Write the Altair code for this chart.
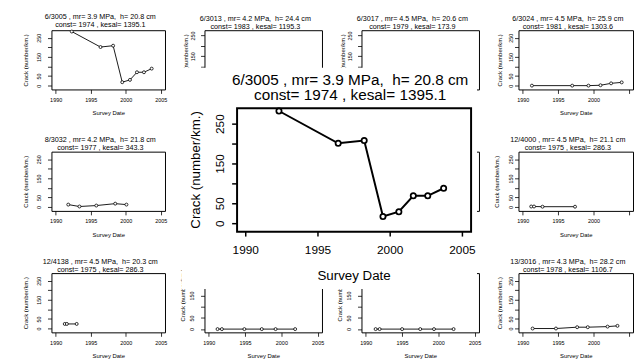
import altair as alt
import pandas as pd

FONT = "Liberation Sans"

# ---------------- data ----------------
year_6_3005 = [1992.3, 1996.4, 1998.2, 1999.5, 2000.6, 2001.6, 2002.6, 2003.7]
crack_6_3005 = [283, 202, 209, 18, 30, 70, 70, 89]

year_6_3013, crack_6_3013 = [], []
year_6_3017, crack_6_3017 = [], []

year_6_3024 = [1991.3, 1997.0, 1999.3, 2001.0, 2002.5, 2004.0]
crack_6_3024 = [0, 0, 0, 2, 12, 17]

year_8_3032 = [1991.8, 1993.4, 1995.8, 1998.5, 2000.1]
crack_8_3032 = [13, 3, 8, 18, 13]

year_hidden_a, crack_hidden_a = [], []
year_hidden_b, crack_hidden_b = [], []

year_12_4000 = [1991.2, 1991.6, 1992.8, 1997.4]
crack_12_4000 = [3, 3, 2, 2]

year_12_4138 = [1991.3, 1991.6, 1993.0]
crack_12_4138 = [24, 24, 24]

year_row3_b = [1991.2, 1991.8, 1994.9, 1997.3, 1999.2, 2001.9]
crack_row3_b = [0, 0, 0, 0, 0, 0]

year_row3_c = [1991.35, 1991.9, 1995.0, 1997.5, 1999.4, 2002.1]
crack_row3_c = [0, 0, 0, 0, 0, 0]

year_13_3016 = [1991.4, 1994.7, 1997.7, 1999.2, 2002.0, 2003.4]
crack_13_3016 = [0, 0, 7, 7, 10, 14]

NB = "\u00a0"
title_6_3005 = ["6/3005 , mr= 3.9 MPa, " + NB + "h= 20.8 cm", "const= 1974 , kesal= 1395.1"]
title_6_3013 = ["6/3013 , mr= 4.2 MPa, " + NB + "h= 24.4 cm", "const= 1983 , kesal= 1195.3"]
title_6_3017 = ["6/3017 , mr= 4.5 MPa, " + NB + "h= 20.6 cm", "const= 1979 , kesal= 173.9"]
title_6_3024 = ["6/3024 , mr= 4.5 MPa, " + NB + "h= 25.9 cm", "const= 1981 , kesal= 1303.6"]
title_8_3032 = ["8/3032 , mr= 4.2 MPa, " + NB + "h= 21.8 cm", "const= 1977 , kesal= 343.3"]
title_12_4000 = ["12/4000 , mr= 4.5 MPa, " + NB + "h= 21.1 cm", "const= 1975 , kesal= 286.3"]
title_12_4138 = ["12/4138 , mr= 4.5 MPa, " + NB + "h= 20.3 cm", "const= 1975 , kesal= 286.3"]
title_13_3016 = ["13/3016 , mr= 4.3 MPa, " + NB + "h= 28.2 cm", "const= 1978 , kesal= 1106.7"]

x_ticks = [1990, 1995, 2000, 2005]
x_tick_labels = ["1990", "1995", "2000", "2005"]
y_ticks = [0, 50, 100, 150, 200, 250]
y_labelled = [0, 50, 150, 250]
y_labelled_text = ["0", "50", "150", "250"]
x_domain = [1989.4, 2005.6]
y_domain = [-20, 290]
y_domain_top_mid = [-10, 276]      # the two half-hidden panels of the first row
y_domain_bottom_mid = [-14.5, 250]  # the two half-hidden panels of the last row

Y_LABEL_EXPR = "datum.value == 100 || datum.value == 200 ? '' : datum.label"
X_LABEL_EXPR_CUT = "datum.value == 2005 ? '' : datum.label"

# grid geometry (pixels)
COL_W = [115, 119, 119, 116]
ROW_H = 60
COL_GAP = 40
ROW_GAP = 63


def frame(years, cracks):
    return pd.DataFrame({"year": pd.Series(years, dtype=float),
                         "crack": pd.Series(cracks, dtype=float)})


def small_panel(years, cracks, title, width, ydom=y_domain, lab_pad=9.5, title_x=-26.0,
                title_y=ROW_H / 2, cut_last=False, show_x=True, show_y=True, height=ROW_H):
    xa = dict(values=x_ticks, format="d", grid=False, domain=False,
              tickSize=4, tickColor="black", tickWidth=0.8,
              labelFontSize=5.5, labelColor="black", labelPadding=6,
              labelBaseline="middle", labelAngle=0, labelFlush=False, labelOverlap=False,
              titleFontSize=6, titleFontWeight="normal", titleColor="black",
              titleX=width / 2, titleY=23.5, titleAlign="center", titleBaseline="middle")
    if show_x:
        xa["title"] = "Survey Date"
    else:
        xa.update(title="", labels=False, ticks=False)
    if cut_last:
        xa["labelExpr"] = X_LABEL_EXPR_CUT
    ya = dict(values=y_ticks, grid=False, domain=False,
              tickSize=4, tickColor="black", tickWidth=0.8,
              labelFontSize=5.5, labelColor="black", labelPadding=lab_pad,
              labelAngle=270, labelAlign="center", labelBaseline="middle",
              labelOverlap=False, labelFlush=False, labelExpr=Y_LABEL_EXPR,
              titleFontSize=6, titleFontWeight="normal", titleColor="black",
              titleX=title_x, titleY=title_y, titleAngle=270, titleAlign="center",
              titleBaseline="middle")
    if show_y:
        ya["title"] = "Crack (number/km.)"
    else:
        ya.update(title="", labels=False, ticks=False)
    x = alt.X("year:Q", scale=alt.Scale(domain=x_domain, nice=False, zero=False), axis=alt.Axis(**xa))
    y = alt.Y("crack:Q", scale=alt.Scale(domain=ydom, nice=False, zero=False), axis=alt.Axis(**ya))
    base = alt.Chart(frame(years, cracks)).encode(x=x, y=y)
    line = base.mark_line(color="black", strokeWidth=0.9)
    pts = base.mark_point(shape="circle", filled=True, fill="white", stroke="black",
                          strokeWidth=0.8, size=9, opacity=1)
    props = dict(width=width, height=height)
    if title:
        props["title"] = alt.TitleParams(text=title, fontSize=7.3, lineHeight=8, font=FONT,
                                         fontWeight="normal", color="black", anchor="middle",
                                         baseline="middle", offset=10, dx=-8, dy=14)
    return alt.layer(line, pts).properties(**props)


def big_panel():
    # The enlarged copy lives in a 1x1 cell one row below the grid; its scales get
    # explicit pixel ranges so that it is drawn over the middle of the grid.
    row4 = 3 * (ROW_H + ROW_GAP)
    left, W, H = 188, 237, 125
    top = 79 - row4
    bottom = top + H
    xs = alt.Scale(domain=x_domain, nice=False, zero=False, range=[left, left + W])
    ys = alt.Scale(domain=y_domain, nice=False, zero=False, range=[bottom, top])
    one = pd.DataFrame({"k": [0]})
    xt = pd.DataFrame({"t": x_ticks, "lab": x_tick_labels})
    yt = pd.DataFrame({"v": y_ticks})
    yl = pd.DataFrame({"v": y_labelled, "lab": y_labelled_text})

    backdrop = alt.Chart(one).mark_rect(fill="white", opacity=1).encode(
        x=alt.value(left - 56), x2=alt.value(left + W + 6),
        y=alt.value(top - 41), y2=alt.value(bottom + 58))
    box = alt.Chart(one).mark_rect(filled=False, color="black", strokeWidth=2).encode(
        x=alt.X(datum=x_domain[0], type="quantitative", scale=xs, axis=None),
        x2=alt.X2(datum=x_domain[1]),
        y=alt.Y(datum=y_domain[0], type="quantitative", scale=ys, axis=None),
        y2=alt.Y2(datum=y_domain[1]))
    base = alt.Chart(frame(year_6_3005, crack_6_3005)).encode(
        x=alt.X("year:Q", scale=xs, axis=None), y=alt.Y("crack:Q", scale=ys, axis=None))
    line = base.mark_line(color="black", strokeWidth=2)
    pts = base.mark_point(shape="circle", filled=True, fill="white", stroke="black",
                          strokeWidth=1.8, size=28, opacity=1)
    xtick = alt.Chart(xt).mark_rule(color="black", strokeWidth=1.5).encode(
        x=alt.X("t:Q", scale=xs, axis=None), y=alt.value(bottom), y2=alt.value(bottom + 5))
    xlab = alt.Chart(xt).mark_text(font=FONT, fontSize=12, color="black", align="center",
                                   baseline="middle").encode(
        x=alt.X("t:Q", scale=xs, axis=None), y=alt.value(bottom + 18.7), text="lab:N")
    ytick = alt.Chart(yt).mark_rule(color="black", strokeWidth=1.5).encode(
        y=alt.Y("v:Q", scale=ys, axis=None), x=alt.value(left - 5), x2=alt.value(left))
    ylab = alt.Chart(yl).mark_text(font=FONT, fontSize=12, color="black", align="center",
                                   baseline="middle", angle=270).encode(
        y=alt.Y("v:Q", scale=ys, axis=None), x=alt.value(left - 17), text="lab:N")
    xtitle = alt.Chart(one).mark_text(font=FONT, fontSize=13.5, color="black", align="center",
                                      baseline="middle").encode(
        text=alt.value("Survey Date"), x=alt.value(left + W / 2), y=alt.value(bottom + 45))
    ytitle = alt.Chart(one).mark_text(font=FONT, fontSize=13.5, color="black", align="center",
                                      baseline="middle", angle=270).encode(
        text=alt.value("Crack (number/km.)"), x=alt.value(left - 42), y=alt.value(top + H / 2))
    head = alt.Chart(one).mark_text(font=FONT, fontSize=15.5, lineHeight=15.6, color="black",
                                    align="center", baseline="middle").encode(
        text=alt.value(title_6_3005), x=alt.value(left + W / 2 - 4), y=alt.value(top - 28.6))
    return alt.layer(backdrop, box, line, pts, xtick, xlab, ytick, ylab, xtitle, ytitle,
                     head).properties(width=1, height=1,
                                      view=alt.ViewBackground(stroke="transparent"))


panels = [
    small_panel(year_6_3005, crack_6_3005, title_6_3005, COL_W[0]),
    small_panel(year_6_3013, crack_6_3013, title_6_3013, COL_W[1], ydom=y_domain_top_mid,
                lab_pad=8, title_x=-19.5, show_x=False),
    small_panel(year_6_3017, crack_6_3017, title_6_3017, COL_W[2], ydom=y_domain_top_mid,
                lab_pad=8, title_x=-19.5, show_x=False),
    small_panel(year_6_3024, crack_6_3024, title_6_3024, COL_W[3], lab_pad=4, title_x=-19,
                cut_last=True),
    small_panel(year_8_3032, crack_8_3032, title_8_3032, COL_W[0]),
    small_panel(year_hidden_a, crack_hidden_a, None, COL_W[1], show_x=False, show_y=False),
    small_panel(year_hidden_b, crack_hidden_b, None, COL_W[2], show_x=False, show_y=False),
    small_panel(year_12_4000, crack_12_4000, title_12_4000, COL_W[3], lab_pad=4, title_x=-22,
                cut_last=True),
    small_panel(year_12_4138, crack_12_4138, title_12_4138, COL_W[0]),
    small_panel(year_row3_b, crack_row3_b, None, COL_W[1], ydom=y_domain_bottom_mid,
                lab_pad=9, title_x=-22.5, title_y=22),
    small_panel(year_row3_c, crack_row3_c, None, COL_W[2], ydom=y_domain_bottom_mid,
                lab_pad=9, title_x=-22.5, title_y=22),
    small_panel(year_13_3016, crack_13_3016, title_13_3016, COL_W[3], lab_pad=4, title_x=-19,
                cut_last=True),
    big_panel(),
]

chart = alt.concat(*panels, columns=4, spacing={"row": ROW_GAP, "column": COL_GAP},
                   bounds="flush", align="each").properties(
    padding={"left": 14, "top": 2, "right": 0, "bottom": 0},
    background="white",
).configure_axis(labelFont=FONT, titleFont=FONT).configure_title(font=FONT).configure_view(
    stroke="black", strokeWidth=1)

chart.save("out.html", embed_options={"renderer": "svg", "actions": False})
